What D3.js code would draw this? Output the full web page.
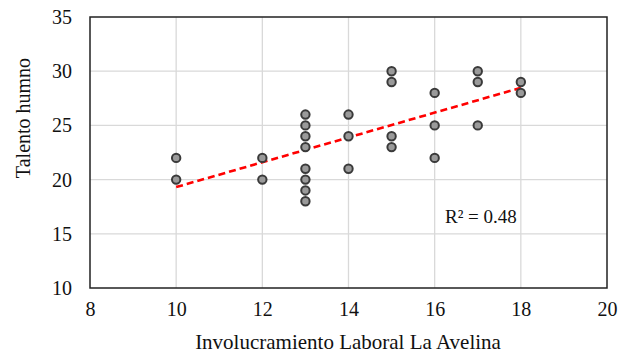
<!DOCTYPE html>
<html><head><meta charset="utf-8">
<script src="https://cdn.jsdelivr.net/npm/d3@7/dist/d3.min.js"></script>
<style>body{margin:0;background:#fff}svg{display:block}</style>
</head><body>
<script>
const xValues = [10,10,12,12,13,13,13,13,13,13,13,13,14,14,14,15,15,15,15,16,16,16,17,17,17,18,18];
const yValues = [22,20,22,20,26,25,24,23,21,20,19,18,26,24,21,30,29,24,23,28,25,22,30,29,25,29,28];
const xTicks = [8,10,12,14,16,18,20];
const yTicks = [10,15,20,25,30,35];
const xTitle = "Involucramiento Laboral La Avelina";
const yTitle = "Talento humno";
const r2Label = "R² = 0.48";

const W=629,H=356;
const m={l:90,r:22,t:17,b:68};
const svg=d3.select("body").append("svg").attr("width",W).attr("height",H);
const x=d3.scaleLinear().domain([8,20]).range([m.l,W-m.r]);
const y=d3.scaleLinear().domain([10,35]).range([H-m.b,m.t]);
const font="'Liberation Serif','Times New Roman',serif";

// gridlines
svg.append("g").selectAll("line.v").data(xTicks.slice(1,-1)).join("line")
  .attr("x1",d=>x(d)).attr("x2",d=>x(d)).attr("y1",y(10)).attr("y2",y(35))
  .attr("stroke","#d9d9d9").attr("stroke-width",1.3);
svg.append("g").selectAll("line.h").data(yTicks.slice(1,-1)).join("line")
  .attr("y1",d=>y(d)).attr("y2",d=>y(d)).attr("x1",x(8)).attr("x2",x(20))
  .attr("stroke","#d9d9d9").attr("stroke-width",1.3);

// frame
svg.append("rect").attr("x",x(8)).attr("y",y(35)).attr("width",x(20)-x(8)).attr("height",y(10)-y(35))
  .attr("fill","none").attr("stroke","#222").attr("stroke-width",1.5);

// axes tick labels
const xa=svg.append("g").attr("transform",`translate(0,${y(10)})`).call(d3.axisBottom(x).tickValues(xTicks).tickSize(0).tickPadding(14).tickFormat(d3.format("d")));
xa.select(".domain").remove();
xa.selectAll("text").attr("font-family",font).attr("font-size",20).attr("fill","#111");
const ya=svg.append("g").attr("transform",`translate(${x(8)},0)`).call(d3.axisLeft(y).tickValues(yTicks).tickSize(0).tickPadding(18).tickFormat(d3.format("d")));
ya.select(".domain").remove();
ya.selectAll("text").attr("font-family",font).attr("font-size",20).attr("fill","#111");

// trendline (least squares)
const n=xValues.length, mx=d3.mean(xValues), my=d3.mean(yValues);
let sxy=0,sxx=0;
for(let i=0;i<n;i++){sxy+=(xValues[i]-mx)*(yValues[i]-my);sxx+=(xValues[i]-mx)**2;}
const b=sxy/sxx,a=my-b*mx;
const x0=d3.min(xValues),x1=d3.max(xValues);
svg.append("line").attr("x1",x(x0)).attr("y1",y(a+b*x0)).attr("x2",x(x1)).attr("y2",y(a+b*x1))
  .attr("stroke","#ff0000").attr("stroke-width",2.6).attr("stroke-dasharray","7,4");

// points
svg.append("g").selectAll("circle").data(xValues.map((v,i)=>[v,yValues[i]])).join("circle")
  .attr("cx",d=>x(d[0])).attr("cy",d=>y(d[1])).attr("r",4.2)
  .attr("fill","#9a9a9a").attr("stroke","#3a3a3a").attr("stroke-width",2);

// R2 label
svg.append("text").attr("x",445).attr("y",223).attr("font-family",font).attr("font-size",19).attr("fill","#111").text(r2Label);

// titles
svg.append("text").attr("x",348).attr("y",349).attr("text-anchor","middle").attr("font-family",font).attr("font-size",21).attr("fill","#111").text(xTitle);
svg.append("text").attr("transform","translate(30,118) rotate(-90)").attr("text-anchor","middle").attr("font-family",font).attr("font-size",20).attr("fill","#111").text(yTitle);
</script>
</body></html>
